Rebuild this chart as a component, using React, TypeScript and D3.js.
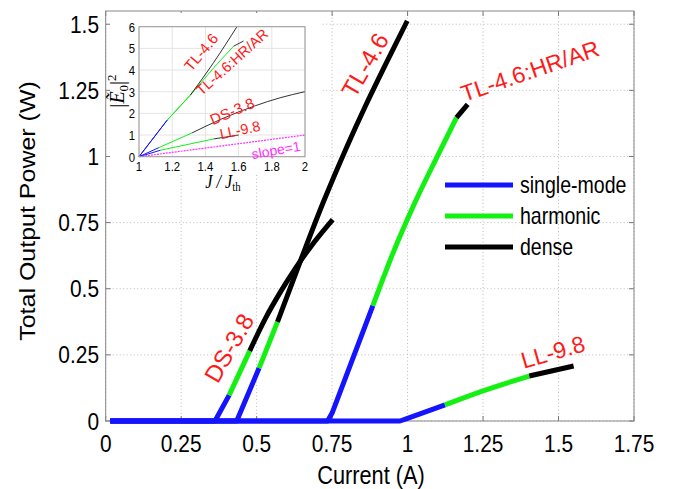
import React from "react";
import * as d3 from "d3";

type P = [number, number];

// ---- main chart data (Current A, Power W) ----
const xTicks = [0, 0.25, 0.5, 0.75, 1, 1.25, 1.5, 1.75];
const xTickLabels = ["0", "0.25", "0.5", "0.75", "1", "1.25", "1.5", "1.75"];
const yTicks = [0, 0.25, 0.5, 0.75, 1, 1.25, 1.5];
const yTickLabels = ["0", "0.25", "0.5", "0.75", "1", "1.25", "1.5"];

const dsBlue: P[] = [[0.015, 0], [0.362, 0], [0.409, 0.098]];
const dsGreen: P[] = [[0.409, 0.098], [0.477, 0.265]];
const dsBlack: P[] = [[0.477, 0.265], [0.53, 0.39], [0.58, 0.49], [0.63, 0.58], [0.68, 0.66], [0.752, 0.761]];

const tlBlue: P[] = [[0.015, 0], [0.434, 0], [0.508, 0.2]];
const tlGreen: P[] = [[0.508, 0.2], [0.569, 0.375]];
const tlBlack: P[] = [[0.569, 0.375], [0.65, 0.62], [0.72, 0.825], [0.8, 1.04], [0.86, 1.19], [0.93, 1.355], [0.999, 1.513]];

const hrBlue: P[] = [[0.015, 0], [0.735, 0], [0.75, 0.03], [0.885, 0.436]];
const hrGreen: P[] = [[0.885, 0.436], [0.95, 0.63], [1.024, 0.825], [1.096, 0.995], [1.162, 1.147]];
const hrBlack: P[] = [[1.162, 1.147], [1.199, 1.197]];

const llBlue: P[] = [[0.015, 0], [0.975, 0], [0.995, 0.008], [1.124, 0.061]];
const llGreen: P[] = [[1.124, 0.061], [1.25, 0.114], [1.403, 0.17]];
const llBlack: P[] = [[1.403, 0.17], [1.55, 0.208]];

const legendNames = ["single-mode", "harmonic", "dense"];
const modeColors = ["#1414ff", "#14f014", "#000000"];

// ---- inset data (J/Jth, |E0|^2) ----
const inXTicks = [1, 1.2, 1.4, 1.6, 1.8, 2];
const inXTickLabels = ["1", "1.2", "1.4", "1.6", "1.8", "2"];
const inYTicks = [0, 1, 2, 3, 4, 5, 6];

const inTlBlue: P[] = [[1, 0], [1.17, 1.69]];
const inTlGreen: P[] = [[1.17, 1.69], [1.31, 2.85]];
const inTlBlack: P[] = [[1.31, 2.85], [1.45, 4.35], [1.59, 6.0]];
const inHrBlue: P[] = [[1, 0], [1.17, 1.69]];
const inHrGreen: P[] = [[1.17, 1.69], [1.31, 2.85], [1.45, 4.1], [1.57, 5.1]];
const inHrBlack: P[] = [[1.57, 5.1], [1.63, 5.34]];
const inDsBlue: P[] = [[1, 0], [1.12, 0.42]];
const inDsGreen: P[] = [[1.12, 0.42], [1.32, 1.1]];
const inDsBlack: P[] = [[1.32, 1.1], [1.5, 1.75], [1.7, 2.35], [1.85, 2.72], [2, 3.0]];
const inLlBlue: P[] = [[1, 0], [1.13, 0.3]];
const inLlGreen: P[] = [[1.13, 0.3], [1.45, 0.82]];
const inLlBlack: P[] = [[1.45, 0.82], [1.6, 1.0]];
const inSlope: P[] = [[1, 0], [2, 1]];

const FONT = "'Liberation Sans', Arial, Helvetica, sans-serif";
const RED = "#ff1a1a";
const SX = 0.87;

function T(props: { x: number; y: number; size: number; anchor?: string; fill?: string; sx?: number; children: React.ReactNode }) {
  const { x, y, size, anchor = "start", fill = "#000", sx = SX, children } = props;
  return (
    <text transform={`translate(${x},${y}) scale(${sx},1)`} textAnchor={anchor} fontSize={size} fill={fill}>
      {children}
    </text>
  );
}

export default function App() {
  const x = d3.scaleLinear().domain([0, 1.75]).range([105.7, 634]);
  const y = d3.scaleLinear().domain([0, 1.55]).range([421, 11]);
  const lineLin = d3.line<P>().x((d) => x(d[0])).y((d) => y(d[1]));
  const lineSmooth = d3.line<P>().x((d) => x(d[0])).y((d) => y(d[1])).curve(d3.curveMonotoneX);

  const ix = d3.scaleLinear().domain([1, 2]).range([139, 305]);
  const iy = d3.scaleLinear().domain([0, 6]).range([156.7, 26.7]);
  const iline = d3.line<P>().x((d) => ix(d[0])).y((d) => iy(d[1])).curve(d3.curveMonotoneX);

  const mainSeries: [P[], number][] = [
    [dsBlue, 0], [tlBlue, 0], [hrBlue, 0], [llBlue, 0],
    [dsGreen, 1], [tlGreen, 1], [hrGreen, 1], [llGreen, 1],
    [dsBlack, 2], [tlBlack, 2], [hrBlack, 2], [llBlack, 2],
  ];
  const inSeries: [P[], number][] = [
    [inDsBlue, 0], [inLlBlue, 0], [inTlBlue, 0], [inHrBlue, 0],
    [inDsGreen, 1], [inLlGreen, 1], [inTlGreen, 1], [inHrGreen, 1],
    [inDsBlack, 2], [inLlBlack, 2], [inTlBlack, 2], [inHrBlack, 2],
  ];

  const [x0, x1] = x.range();
  const [y0, y1] = y.range();
  const [ix0, ix1] = ix.range();
  const [iy0, iy1] = iy.range();

  return (
    <svg width={681} height={489} style={{ position: "absolute", left: 0, top: 0, background: "#fff" }} fontFamily={FONT}>
      <rect x={0} y={0} width={681} height={489} fill="#fff" />
      {/* main grid */}
      {xTicks.map((t, i) => (
        <line key={"gx" + i} x1={x(t)} x2={x(t)} y1={y0} y2={y1} stroke="#bbb" strokeWidth={1} strokeDasharray="1,2.5" />
      ))}
      {yTicks.map((t, i) => (
        <line key={"gy" + i} x1={x0} x2={x1} y1={y(t)} y2={y(t)} stroke="#bbb" strokeWidth={1} strokeDasharray="1,2.5" />
      ))}
      {/* ticks */}
      {xTicks.map((t, i) => (
        <g key={"tx" + i}>
          <line x1={x(t)} x2={x(t)} y1={y0} y2={y0 - 5} stroke="#777" />
          <line x1={x(t)} x2={x(t)} y1={y1} y2={y1 + 5} stroke="#777" />
          <T x={x(t)} y={452} size={24} anchor="middle">{xTickLabels[i]}</T>
        </g>
      ))}
      {yTicks.map((t, i) => (
        <g key={"ty" + i}>
          <line x1={x0} x2={x0 + 5} y1={y(t)} y2={y(t)} stroke="#777" />
          <line x1={x1} x2={x1 - 5} y1={y(t)} y2={y(t)} stroke="#777" />
          <T x={99} y={y(t) + 8.5} size={24} anchor="end">{yTickLabels[i]}</T>
        </g>
      ))}
      <rect x={x0} y={y1} width={x1 - x0} height={y0 - y1} fill="none" stroke="#888" strokeWidth={1} />
      <T x={371} y={484} size={25} anchor="middle">Current (A)</T>
      <text transform="translate(35,211) rotate(-90) scale(1,0.87)" textAnchor="middle" fontSize={25}>Total Output Power (W)</text>

      {/* main curves */}
      {mainSeries.map(([d, c], i) => (
        <path key={"m" + i} d={(c === 0 ? lineLin(d) : lineSmooth(d)) || ""} fill="none" stroke={modeColors[c]} strokeWidth={5} strokeLinecap="butt" strokeLinejoin="round" />
      ))}

      {/* main labels */}
      <text transform="translate(365,65) rotate(-60)" textAnchor="middle" dominantBaseline="central" fontSize={24} fill={RED}>TL-4.6</text>
      <text transform="translate(530,71) rotate(-19)" textAnchor="middle" dominantBaseline="central" fontSize={23} fill={RED}>TL-4.6:HR/AR</text>
      <text transform="translate(229,348) rotate(-60)" textAnchor="middle" dominantBaseline="central" fontSize={24} fill={RED}>DS-3.8</text>
      <text transform="translate(553,352) rotate(-16)" textAnchor="middle" dominantBaseline="central" fontSize={23} fill={RED}>LL-9.8</text>

      {/* legend */}
      {legendNames.map((n, i) => (
        <g key={"lg" + i}>
          <line x1={445} x2={513} y1={185 + i * 31} y2={185 + i * 31} stroke={modeColors[i]} strokeWidth={5} />
          <T x={520} y={185 + i * 31 + 8} size={23} sx={0.85}>{n}</T>
        </g>
      ))}

      {/* inset */}
      <rect x={110} y={13} width={212} height={160} fill="#fff" />
      {inXTicks.map((t, i) => (
        <line key={"igx" + i} x1={ix(t)} x2={ix(t)} y1={iy0} y2={iy1} stroke="#e4e4e4" strokeWidth={1} />
      ))}
      {inYTicks.map((t, i) => (
        <line key={"igy" + i} x1={ix0} x2={ix1} y1={iy(t)} y2={iy(t)} stroke="#e4e4e4" strokeWidth={1} />
      ))}
      {inSeries.map(([d, c], i) => (
        <path key={"is" + i} d={iline(d) || ""} fill="none" stroke={modeColors[c]} strokeWidth={1} opacity={c === 2 ? 0.8 : 1} />
      ))}
      <path d={iline(inSlope) || ""} fill="none" stroke="#ff30ff" strokeWidth={1.2} strokeDasharray="2,1" />
      <rect x={ix0} y={iy1} width={ix1 - ix0} height={iy0 - iy1} fill="none" stroke="#999" strokeWidth={1} />
      {inXTicks.map((t, i) => (
        <T key={"itx" + i} x={ix(t)} y={171} size={13} anchor="middle">{inXTickLabels[i]}</T>
      ))}
      {inYTicks.map((t, i) => (
        <T key={"ity" + i} x={135} y={iy(t) + 5} size={13} anchor="end">{String(t)}</T>
      ))}
      <text transform="translate(223,188) scale(0.9,1)" textAnchor="middle" fontSize={18} fontFamily="'Liberation Serif', 'DejaVu Serif', serif" fontStyle="italic">
        J / J<tspan fontStyle="normal" fontSize={12} dy={3}>th</tspan>
      </text>
      <text transform="translate(124,91) rotate(-90)" textAnchor="middle" fontSize={20} fontFamily="'Liberation Serif', serif">
        |<tspan fontStyle="italic">Ẽ</tspan><tspan fontSize={13} dy={4}>0</tspan><tspan dy={-4}>|</tspan><tspan fontSize={13} dy={-8}>2</tspan>
      </text>
      <text transform="translate(201,52) rotate(-50)" textAnchor="middle" dominantBaseline="central" fontSize={15} fill={RED}>TL-4.6</text>
      <text transform="translate(232,62) rotate(-42)" textAnchor="middle" dominantBaseline="central" fontSize={14.5} fill={RED}>TL-4.6:HR/AR</text>
      <text transform="translate(232,111) rotate(-23)" textAnchor="middle" dominantBaseline="central" fontSize={15} fill={RED}>DS-3.8</text>
      <text transform="translate(240,130) rotate(-12)" textAnchor="middle" dominantBaseline="central" fontSize={14.5} fill={RED}>LL-9.8</text>
      <text transform="translate(276,150) rotate(-10)" textAnchor="middle" dominantBaseline="central" fontSize={14} fill="#ff30ff">slope=1</text>
    </svg>
  );
}
